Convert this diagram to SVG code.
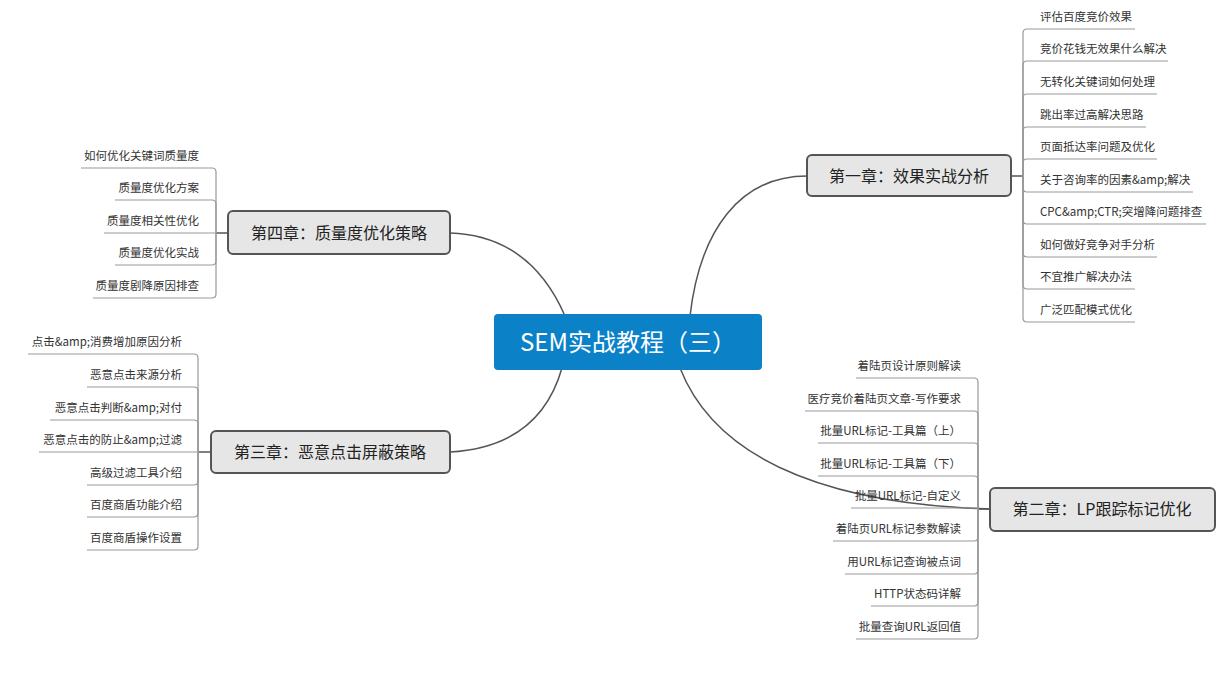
<svg xmlns="http://www.w3.org/2000/svg" width="1228" height="676" viewBox="0 0 1228 676">
<style>
text{font-family:"Noto Sans CJK SC","Liberation Sans",sans-serif;fill:#333}
.leaf{font-size:11.5px}
.ch{font-size:16px;text-anchor:middle;fill:#222}
.box{fill:#e6e6e6;stroke:#555;stroke-width:2}
.ln{fill:none;stroke:#555;stroke-width:1.5}
.br{fill:none;stroke:#999;stroke-width:1.2}
.r{text-anchor:end}
</style>
<rect width="1228" height="676" fill="#fff"/>
<g id="connectors">
<path class="ln" d="M690 316 C700 230 740 176 807 176"/>
<path class="ln" d="M680 368 C720 470 850 505 990 509"/>
<path class="ln" d="M450 233 C510 235 545 270 565 316"/>
<path class="ln" d="M450 452 C520 448 550 410 562 368"/>
<path class="ln" d="M1011 176 H1023"/>
<path class="br" d="M1023 176 V33 Q1023 29 1027 29 H1135"/>
<path class="br" d="M1023 176 V65 Q1023 61 1027 61 H1168"/>
<path class="br" d="M1023 176 V98 Q1023 94 1027 94 H1157"/>
<path class="br" d="M1023 176 V131 Q1023 127 1027 127 H1146"/>
<path class="br" d="M1023 176 V163 Q1023 159 1027 159 H1157"/>
<path class="br" d="M1023 176 V188 Q1023 192 1027 192 H1193"/>
<path class="br" d="M1023 176 V220 Q1023 224 1027 224 H1206"/>
<path class="br" d="M1023 176 V253 Q1023 257 1027 257 H1157"/>
<path class="br" d="M1023 176 V285 Q1023 289 1027 289 H1135"/>
<path class="br" d="M1023 176 V318 Q1023 322 1027 322 H1135"/>
<path class="ln" d="M990 509 H978"/>
<path class="br" d="M978 509 V382 Q978 378 974 378 H856"/>
<path class="br" d="M978 509 V415 Q978 411 974 411 H805"/>
<path class="br" d="M978 509 V447 Q978 443 974 443 H818"/>
<path class="br" d="M978 509 V480 Q978 476 974 476 H818"/>
<path class="br" d="M978 508 H851"/>
<path class="br" d="M978 509 V537 Q978 541 974 541 H833"/>
<path class="br" d="M978 509 V570 Q978 574 974 574 H845"/>
<path class="br" d="M978 509 V602 Q978 606 974 606 H871"/>
<path class="br" d="M978 509 V635 Q978 639 974 639 H856"/>
<path class="ln" d="M228 233 H216"/>
<path class="br" d="M216 233 V172 Q216 168 212 168 H81"/>
<path class="br" d="M216 233 V204 Q216 200 212 200 H115"/>
<path class="br" d="M216 233 H104"/>
<path class="br" d="M216 233 V261 Q216 265 212 265 H115"/>
<path class="br" d="M216 233 V294 Q216 298 212 298 H93"/>
<path class="ln" d="M211 452 H198"/>
<path class="br" d="M198 452 V358 Q198 354 194 354 H28"/>
<path class="br" d="M198 452 V391 Q198 387 194 387 H87"/>
<path class="br" d="M198 452 V424 Q198 420 194 420 H50"/>
<path class="br" d="M198 452 H39"/>
<path class="br" d="M198 452 V481 Q198 485 194 485 H87"/>
<path class="br" d="M198 452 V513 Q198 517 194 517 H87"/>
<path class="br" d="M198 452 V546 Q198 550 194 550 H87"/>
</g>
<g id="center">
<rect x="494" y="314" width="268" height="56" rx="4" fill="#0b82c8"/>
<text x="628" y="351" style="font-size:24px;text-anchor:middle;fill:#fff">SEM实战教程（三）</text>
</g>
<g id="ch1">
<rect class="box" x="807" y="155" width="204" height="41" rx="5"/>
<text class="ch" x="909" y="182">第一章：效果实战分析</text>
</g>
<g id="ch1-leaves">
<text class="leaf" x="1040" y="21">评估百度竞价效果</text>
<text class="leaf" x="1040" y="53">竞价花钱无效果什么解决</text>
<text class="leaf" x="1040" y="86">无转化关键词如何处理</text>
<text class="leaf" x="1040" y="119">跳出率过高解决思路</text>
<text class="leaf" x="1040" y="151">页面抵达率问题及优化</text>
<text class="leaf" x="1040" y="184">关于咨询率的因素&amp;amp;解决</text>
<text class="leaf" x="1040" y="216">CPC&amp;amp;CTR;突增降问题排查</text>
<text class="leaf" x="1040" y="249">如何做好竞争对手分析</text>
<text class="leaf" x="1040" y="281">不宜推广解决办法</text>
<text class="leaf" x="1040" y="314">广泛匹配模式优化</text>
</g>
<g id="ch2">
<rect class="box" x="990" y="488" width="225" height="43" rx="5"/>
<text class="ch" x="1102" y="515">第二章：LP跟踪标记优化</text>
</g>
<g id="ch2-leaves">
<text class="leaf r" x="961" y="370">着陆页设计原则解读</text>
<text class="leaf r" x="961" y="403">医疗竞价着陆页文章-写作要求</text>
<text class="leaf r" x="961" y="435">批量URL标记-工具篇（上）</text>
<text class="leaf r" x="961" y="468">批量URL标记-工具篇（下）</text>
<text class="leaf r" x="961" y="500">批量URL标记-自定义</text>
<text class="leaf r" x="961" y="533">着陆页URL标记参数解读</text>
<text class="leaf r" x="961" y="566">用URL标记查询被点词</text>
<text class="leaf r" x="961" y="598">HTTP状态码详解</text>
<text class="leaf r" x="961" y="631">批量查询URL返回值</text>
</g>
<g id="ch4">
<rect class="box" x="228" y="211" width="222" height="43" rx="5"/>
<text class="ch" x="339" y="239">第四章：质量度优化策略</text>
</g>
<g id="ch4-leaves">
<text class="leaf r" x="199" y="160">如何优化关键词质量度</text>
<text class="leaf r" x="199" y="192">质量度优化方案</text>
<text class="leaf r" x="199" y="225">质量度相关性优化</text>
<text class="leaf r" x="199" y="257">质量度优化实战</text>
<text class="leaf r" x="199" y="290">质量度剧降原因排查</text>
</g>
<g id="ch3">
<rect class="box" x="211" y="431" width="239" height="42" rx="5"/>
<text class="ch" x="330" y="458">第三章：恶意点击屏蔽策略</text>
</g>
<g id="ch3-leaves">
<text class="leaf r" x="182" y="346">点击&amp;amp;消费增加原因分析</text>
<text class="leaf r" x="182" y="379">恶意点击来源分析</text>
<text class="leaf r" x="182" y="412">恶意点击判断&amp;amp;对付</text>
<text class="leaf r" x="182" y="444">恶意点击的防止&amp;amp;过滤</text>
<text class="leaf r" x="182" y="477">高级过滤工具介绍</text>
<text class="leaf r" x="182" y="509">百度商盾功能介绍</text>
<text class="leaf r" x="182" y="542">百度商盾操作设置</text>
</g>
</svg>
